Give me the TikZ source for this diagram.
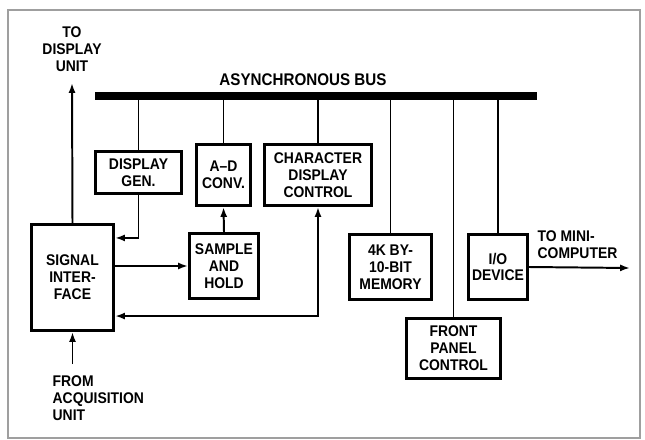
\documentclass[tikz,border=0pt]{standalone}
\usepackage{fontspec}
\setmainfont{Liberation Sans}[FakeStretch=0.9]
\usetikzlibrary{arrows.meta,calc}

\begin{document}
\begin{tikzpicture}[
    x=0.025cm, y=-0.025cm,
    font=\fontsize{11}{12}\selectfont\bfseries,
    box/.style={draw, line width=2.2pt, rectangle, align=center, inner sep=1pt},
    arrow/.style={-{Latex[length=7pt,width=5pt]}, line width=1.4pt},
    twoway/.style={{Latex[length=7pt,width=5pt]}-{Latex[length=7pt,width=5pt]}, line width=1.4pt},
    tap/.style={line width=1.3pt},
    lbl/.style={align=center, inner sep=1pt}
]
\useasboundingbox (0,0) rectangle (645,440);

% Frame
\draw[gray!75, line width=1.1pt] (8,10) rectangle (640,438);

% Bus
\coordinate (busL) at (95,96);
\coordinate (busR) at (537,96);
\draw[line width=5pt] (busL) -- (busR);
\node[lbl, font=\fontsize{12}{14}\selectfont\bfseries] (buslbl) at (303,80) {ASYNCHRONOUS BUS};

% Boxes
\node[box, minimum width=2.05cm, minimum height=2.65cm] (sig) at (72.5,277.5) {SIGNAL\\INTER-\\FACE};
\node[box, minimum width=2.15cm, minimum height=1.05cm] (dgen) at (138.5,172.5) {DISPLAY\\GEN.};
\node[box, minimum width=1.35cm, minimum height=1.525cm] (adc) at (223.5,175) {A--D\\CONV.};
\node[box, minimum width=2.675cm, minimum height=1.525cm] (cdc) at (318,175) {CHARACTER\\DISPLAY\\CONTROL};
\node[box, minimum width=1.725cm, minimum height=1.625cm] (sah) at (224,266) {SAMPLE\\AND\\HOLD};
\node[box, minimum width=2.05cm, minimum height=1.625cm] (mem) at (390.5,267) {4K BY-\\10-BIT\\MEMORY};
\node[box, minimum width=1.475cm, minimum height=1.625cm] (io) at (498,267) {I/O\\DEVICE};
\node[box, minimum width=2.35cm, minimum height=1.5cm] (fpc) at (453.5,348.5) {FRONT\\PANEL\\CONTROL};

% Outside labels
\node[lbl] (todisp) at (72,49) {TO\\DISPLAY\\UNIT};
\node[lbl, align=left, anchor=north west] (fromacq) at (51,374) {FROM\\ACQUISITION\\UNIT};
\node[lbl, align=left, anchor=south west] (tomini) at (536,260) {TO MINI-\\COMPUTER};
\coordinate (miniend) at (630,268);

% Bus taps
\foreach \n in {dgen,adc,cdc,mem,io,fpc}
    \draw[tap] (\n.north) -- (\n.north |- busL);

% Connections
\draw[arrow] (sig.north) -- ($(todisp.south)+(0,10)$);
\draw[arrow] ($(sig.south |- fromacq.north)+(0,-10)$) -- (sig.south);
\draw[arrow] (dgen.south) |- ($(sig.north east)+(0,15)$);
\draw[arrow] (sig.east |- sah.west) -- (sah.west);
\draw[arrow] (sah.north) -- (adc.south);
\draw[twoway] (cdc.south) |- ($(sig.south east)+(0,-16)$);
\draw[arrow] (io.east) -- (miniend);

\end{tikzpicture}
\end{document}
